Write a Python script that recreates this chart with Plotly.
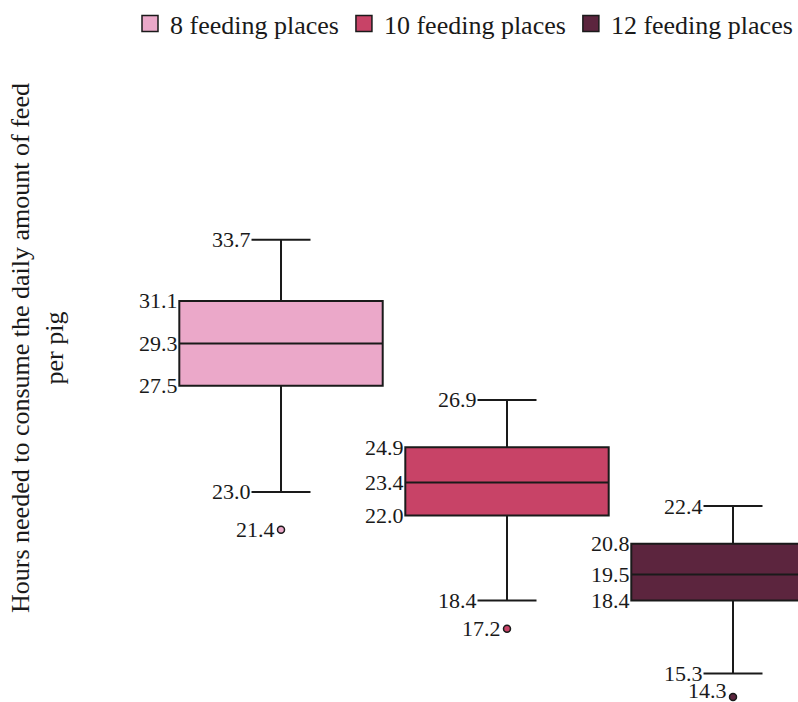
import plotly.graph_objects as go

# Group labels and five-number summaries (hours per pig)
groups = ["8 feeding places", "10 feeding places", "12 feeding places"]
upper_whisker = [33.7, 26.9, 22.4]
q3 = [31.1, 24.9, 20.8]
median = [29.3, 23.4, 19.5]
q1 = [27.5, 22.0, 18.4]
lower_whisker = [23.0, 18.4, 15.3]
outliers = [21.4, 17.2, 14.3]

colors = ["#EBA8C9", "#C84367", "#5C253E"]
positions = [0, 1, 2]

FONT = "Liberation Serif, Times New Roman, serif"
INK = "#1a1a1a"
BOX_W = 0.9
CAP_FRAC = 0.29
Y_RANGE = [14.09, 43.78]

fig = go.Figure()

for i, name in enumerate(groups):
    x0 = positions[i]
    fig.add_trace(go.Box(
        x=[x0], q1=[q1[i]], median=[median[i]], q3=[q3[i]],
        lowerfence=[lower_whisker[i]], upperfence=[upper_whisker[i]],
        width=BOX_W, whiskerwidth=CAP_FRAC,
        fillcolor=colors[i], line=dict(color=INK, width=2),
        boxpoints=False, name=name, showlegend=False, hoverinfo="skip",
    ))
    fig.add_trace(go.Scatter(
        x=[x0], y=[outliers[i]], mode="markers",
        marker=dict(size=7, color=colors[i], line=dict(color=INK, width=1.5)),
        cliponaxis=False, showlegend=False, hoverinfo="skip",
    ))
    # legend swatch
    fig.add_trace(go.Scatter(
        x=[None], y=[None], mode="markers", name=name,
        marker=dict(symbol="square", size=16, color=colors[i],
                    line=dict(color=INK, width=1.5)),
    ))

    box_left = x0 - BOX_W / 2
    cap_left = x0 - BOX_W * CAP_FRAC / 2
    labels = [
        (upper_whisker[i], cap_left, 1),
        (q3[i], box_left, 1),
        (median[i], box_left, 1),
        (q1[i], box_left, 1),
        (lower_whisker[i], cap_left, 1),
        (outliers[i], x0, -4),
    ]
    for val, xa, shift in labels:
        # keep labels that sit near the bottom edge inside the canvas
        lift = 7 if val - Y_RANGE[0] < 0.4 else 0
        fig.add_annotation(
            x=xa, y=val, xref="x", yref="y", text=f"{val:.1f}",
            showarrow=False, xanchor="right", yanchor="middle",
            xshift=shift, yshift=lift,
            font=dict(family=FONT, size=22, color=INK),
        )

fig.add_annotation(
    x=0.047, y=0.505, xref="paper", yref="paper",
    text="Hours needed to consume the daily amount of feed<br>per pig",
    textangle=-90, showarrow=False, xanchor="center", yanchor="middle",
    font=dict(family=FONT, size=26, color=INK),
)

fig.update_layout(
    width=798, height=702,
    margin=dict(l=0, r=0, t=0, b=0),
    paper_bgcolor="white", plot_bgcolor="white",
    font=dict(family=FONT, size=22, color=INK),
    xaxis=dict(range=[-1.2434, 2.2876], visible=False),
    yaxis=dict(range=Y_RANGE, visible=False),
    showlegend=True,
    legend=dict(orientation="h", x=1, xanchor="right", y=1.003, yanchor="top",
                font=dict(family=FONT, size=26, color=INK),
                bgcolor="rgba(0,0,0,0)"),
)

fig.write_html("out.html")
